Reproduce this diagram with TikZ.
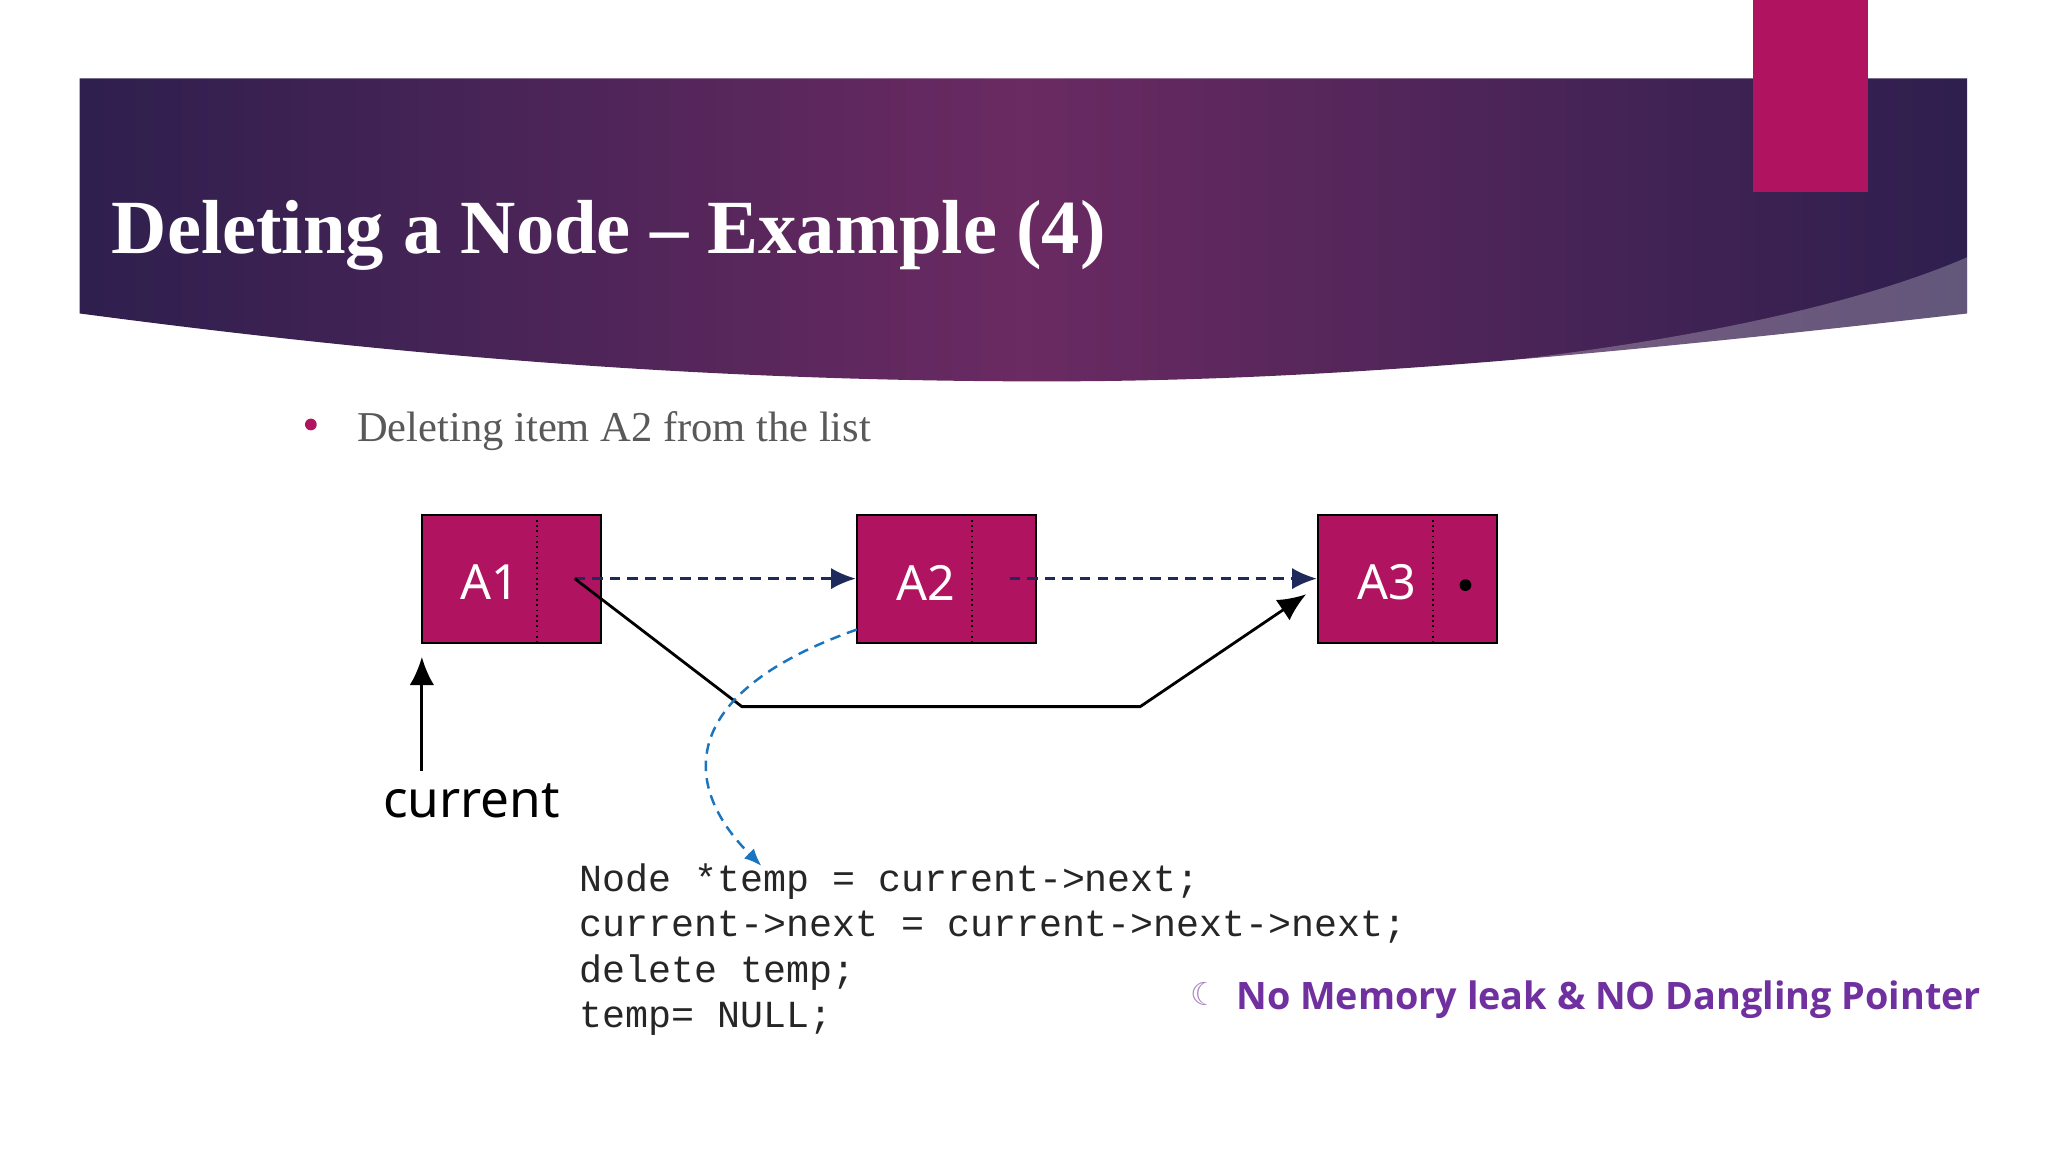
\documentclass[tikz,border=0pt]{standalone}
\usepackage{fontspec}
\setmainfont{Liberation Serif}
\newfontfamily\sansf{Noto Sans}
\newfontfamily\boldf{Open Sans}
\newfontfamily\monof{Liberation Mono}
\newfontfamily\djv{DejaVu Sans}
\usetikzlibrary{arrows.meta,shadings}
\definecolor{mag}{HTML}{B0135F}
\definecolor{navy}{HTML}{1F2A5C}
\definecolor{lblue}{HTML}{1A75C0}
\definecolor{purp}{HTML}{7030A0}
\definecolor{bandL}{HTML}{2E1F4E}
\definecolor{bandM}{HTML}{6A2A62}
\begin{document}
\begin{tikzpicture}[x=0.013061cm,y=-0.013061cm,
  box/.style={draw=black,fill=mag,minimum width=137*0.013061cm,minimum height=98*0.013061cm,inner sep=0pt,line width=0.6pt},
  lbl/.style={font=\sansf\fontsize{13.8}{16}\selectfont,text=white},
  nextptr/.style={navy,densely dashed,line width=0.7pt,-{Latex[length=7pt,width=6pt]}},
  code/.style={font=\monof\fontsize{10.9}{12}\selectfont,anchor=west,inner sep=0pt,text=black!85}]
\useasboundingbox (0,0) rectangle (1568,882);
\fill[white] (0,0) rectangle (1568,882);
% header band
\shade[left color=bandL,right color=bandL,middle color=bandM]
  (61,60) -- (1506,60) -- (1506,240) .. controls (1200,275) and (1000,292) .. (800,292)
  .. controls (500,292) and (250,265) .. (61,240) -- cycle;
\fill[white,opacity=0.25] (1100,282) .. controls (1300,262) and (1430,230) .. (1506,197) -- (1506,240) .. controls (1350,262) and (1220,275) .. (1100,282) -- cycle;
\fill[mag] (1342,0) rectangle (1430,147);
\node[anchor=west,text=white,font=\bfseries\fontsize{21.8}{24}\selectfont,inner sep=0pt] (title) at (85,180) {Deleting a Node – Example (4)};
% bullet
\fill[mag] (238,325) circle (4.5);
\node[anchor=west,text=black!65,font=\fontsize{12.1}{14}\selectfont,inner sep=0pt] (bul) at (273,330) {Deleting item A2 from the list};
% boxes
\node[box] (A1) at (391.5,443) {};
\node[box] (A2) at (724.5,443) {};
\node[box] (A3) at (1077.5,443) {};
\draw[densely dotted,line width=0.5pt] (411,394) -- (411,492) (744,394) -- (744,492) (1097,394) -- (1097,492);
\node[lbl] at (375,446) {A1};
\node[lbl] at (709,446) {A2};
\node[lbl] at (1062,446) {A3};
\coordinate (p1) at (440,443);
\coordinate (p2) at (773,443);
\fill (1122,448) circle (4.5);
\draw[nextptr] (p1) -- (A2.west);
\draw[nextptr] (p2) -- (A3.west);
\draw[line width=0.8pt,-{Latex[length=8pt,width=7pt]}] (p1) -- (568,541) -- (873,541) -- (1000,455);
% current
\node[font=\sansf\fontsize{14.6}{17}\selectfont,inner sep=0pt] (cur) at (361,613) {current};
\coordinate (cb) at (323,590);
\draw[line width=0.8pt,-{Latex[length=8pt,width=7pt]}] (cb) -- (323,503);
% code
\node[code] (c1) at (443,675) {Node *temp = current->next;};
\node[code] (c2) at (443,710) {current->next = current->next->next;};
\node[code] (c3) at (443,745) {delete temp;};
\node[code] (c4) at (443,780) {temp= NULL;};
\draw[lblue,densely dashed,line width=0.7pt,-{Latex[length=5pt,width=4pt]}] (656,482) .. controls (520,530) and (520,600) .. (583,663);
% note
\node[text=purp!60,font=\djv\fontsize{9}{10}\selectfont,inner sep=0pt] (moon) at (922,761) {☾};
\node[anchor=west,text=purp,font=\boldf\bfseries\fontsize{10.75}{13}\selectfont,inner sep=0pt] (note) at (946,765) {No Memory leak \& NO Dangling Pointer};
\end{tikzpicture}
\end{document}
